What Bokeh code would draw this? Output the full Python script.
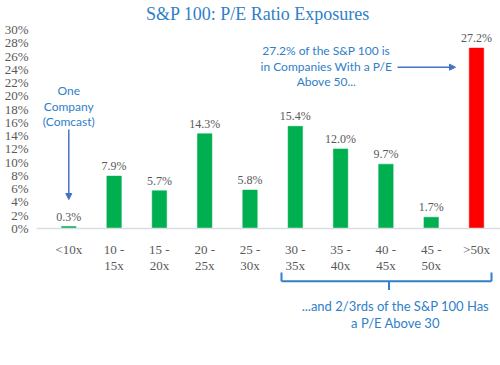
from bokeh.plotting import figure
from bokeh.models import (Range1d, FixedTicker, NumeralTickFormatter, Label, Arrow,
                          NormalHead, ColumnDataSource, LabelSet)
from bokeh.embed import file_html
from bokeh.resources import INLINE

# ---- data ----
categories = ["<10x", "10 -\n15x", "15 -\n20x", "20 -\n25x", "25 -\n30x",
              "30 -\n35x", "35 -\n40x", "40 -\n45x", "45 -\n50x", ">50x"]
values = [0.3, 7.9, 5.7, 14.3, 5.8, 15.4, 12.0, 9.7, 1.7, 27.2]
bar_colors = ["#00B050"] * 9 + ["#FF0000"]
y_ticks = [0, 2, 4, 6, 8, 10, 12, 14, 16, 18, 20, 22, 24, 26, 28, 30]

title_text = "S&P 100: P/E Ratio Exposures"
note_left = ["One", "Company", "(Comcast)"]
note_top = ["27.2% of the S&P 100 is", "in Companies With a P/E", "Above 50..."]
note_bottom = ["...and 2/3rds of the S&P 100 Has", "a P/E Above 30"]

BLUE = "#2F80C8"
ARROW = "#4472C4"
GRAY = "#595959"
SERIF = "Liberation Serif"
SANS = "Lato"

# picture-pixel -> data helpers for annotation layout
X0, XS = 68.3, 45.3      # x of first category, px per category
Y0, YS = 228.0, 663.3    # y of 0%, px per unit fraction
PAGE = 0                 # observed offset of the figure in the picture
W, H, LEFT = 500, 365, 36

def xd(px):
    return (px - X0) / XS

def yd(py):
    return (Y0 - py) / YS

xs = list(range(len(categories)))
src = ColumnDataSource(dict(x=xs, top=[v / 100 for v in values],
                            color=bar_colors,
                            label=[f"{v:.1f}%" for v in values]))

p = figure(width=W, height=H, output_backend="svg", toolbar_location=None,
           x_range=Range1d(xd(PAGE + LEFT), xd(PAGE + W)),
           y_range=Range1d(yd(PAGE + H), yd(PAGE)),
           min_border_left=LEFT, min_border_right=0, min_border_top=0,
           min_border_bottom=0, outline_line_color=None)
p.background_fill_color = "white"
p.border_fill_color = "white"
p.grid.visible = False

p.vbar(x="x", top="top", width=0.32, fill_color="color", line_color="color",
       line_width=0.5, source=src)

p.add_layout(LabelSet(x="x", y="top", text="label", source=src, text_align="center",
                      text_baseline="bottom", y_offset=3, text_font=SERIF,
                      text_font_size="12px", text_color=GRAY))

# axes
p.yaxis.ticker = FixedTicker(ticks=[t / 100 for t in y_ticks])
p.yaxis.formatter = NumeralTickFormatter(format="0%")
p.yaxis.axis_line_color = None
p.yaxis.major_tick_line_color = None
p.yaxis.minor_tick_line_color = None
p.yaxis.major_label_text_font = SERIF
p.yaxis.major_label_text_font_size = "13px"
p.yaxis.major_label_text_color = GRAY
p.yaxis.major_label_standoff = 2

p.xaxis.fixed_location = 0
p.xaxis.ticker = FixedTicker(ticks=xs)
p.xaxis.major_label_overrides = {i: c for i, c in zip(xs, categories)}
p.xaxis.axis_line_color = "#D9DDE3"
p.xaxis.axis_line_width = 1.5
p.xaxis.major_tick_line_color = None
p.xaxis.minor_tick_line_color = None
p.xaxis.major_label_text_font = SERIF
p.xaxis.major_label_text_font_size = "13px"
p.xaxis.major_label_text_color = GRAY
p.xaxis.major_label_text_line_height = 1.1
p.xaxis.major_label_standoff = 7


def text(t, px, py, size="12px", font=SANS, color=BLUE):
    p.add_layout(Label(x=xd(px), y=yd(py), text=t, text_align="center",
                       text_baseline="middle", text_font=font,
                       text_font_size=size, text_color=color))

text(title_text, 257.5, 13, size="18px", font=SERIF)
for i, t in enumerate(note_left):
    text(t, 68.3, 90 + 15.5 * i)
for i, t in enumerate(note_top):
    text(t, 325.8, 50 + 15.6 * i)
for i, t in enumerate(note_bottom):
    text(t, 395, 305 + 17.5 * i, size="13px")

head = lambda: NormalHead(size=6, fill_color=ARROW, line_color=ARROW)
p.add_layout(Arrow(x_start=xd(68.3), y_start=yd(129), x_end=xd(68.3), y_end=yd(199),
                   end=head(), line_color=ARROW, line_width=1.5))
p.add_layout(Arrow(x_start=xd(397), y_start=yd(66.7), x_end=xd(455), y_end=yd(66.7),
                   end=head(), line_color=ARROW, line_width=1.5))

# bracket
def seg(x0, y0, x1, y1):
    p.add_layout(Arrow(x_start=xd(x0), y_start=yd(y0), x_end=xd(x1), y_end=yd(y1),
                       end=None, line_color=BLUE, line_width=2))

seg(281, 280.7, 491, 280.7)
seg(281, 272, 281, 280.7)
seg(491, 272, 491, 280.7)
seg(388.5, 280.7, 388.5, 289.5)

open("out.html", "w").write(file_html(p, INLINE))
